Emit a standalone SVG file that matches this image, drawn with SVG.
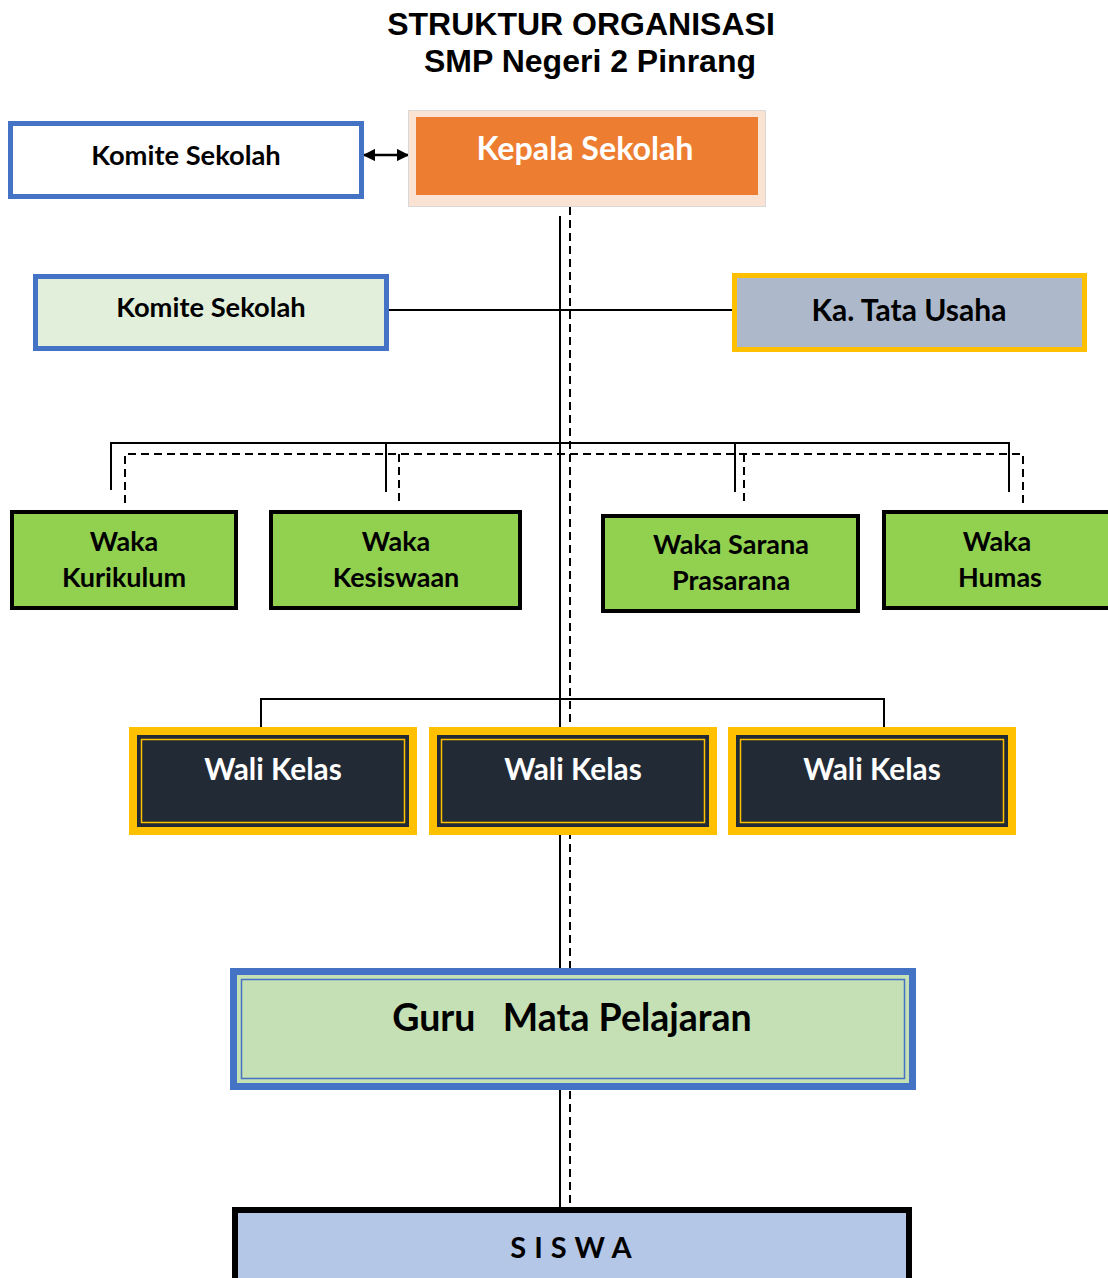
<svg xmlns="http://www.w3.org/2000/svg" width="1108" height="1278" viewBox="0 0 1108 1278">
<defs>
<style>
.t{font-family:Lato,"Liberation Sans",sans-serif;font-weight:bold;text-anchor:middle;fill:#000}
.w{fill:#fff}
.ttl{font-family:"Liberation Sans",Arial,sans-serif;font-weight:bold;font-size:32px;text-anchor:middle;fill:#000}
.sl{stroke:#000;stroke-width:2;fill:none}
.dl{stroke:#000;stroke-width:2;fill:none;stroke-dasharray:8,5}
.waka{fill:#92D050;stroke:#000;stroke-width:4}
</style>
<marker id="ah" viewBox="0 0 10 10" refX="9" refY="5" markerWidth="5" markerHeight="5" orient="auto-start-reverse" markerUnits="strokeWidth">
<path d="M0,0 L10,5 L0,10 z" fill="#000"/>
</marker>
</defs>
<rect width="1108" height="1278" fill="#fff"/>
<g id="title">
<text class="ttl" x="581" y="35">STRUKTUR ORGANISASI</text>
<text class="ttl" x="590" y="72">SMP Negeri 2 Pinrang</text>
</g>
<g id="connectors">
<line class="sl" x1="560" y1="216" x2="560" y2="968"/>
<line class="sl" x1="560" y1="1090" x2="560" y2="1208"/>
<line class="dl" x1="570" y1="207" x2="570" y2="1205"/>
<line class="sl" x1="389" y1="310" x2="733" y2="310"/>
<polyline class="sl" points="111,490 111,443 1009,443 1009,492"/>
<line class="sl" x1="386" y1="443" x2="386" y2="492"/>
<line class="sl" x1="735" y1="443" x2="735" y2="492"/>
<polyline class="dl" points="125,503 125,454 1023,454 1023,503"/>
<line class="dl" x1="399" y1="454" x2="399" y2="503"/>
<line class="dl" x1="744" y1="454" x2="744" y2="503"/>
<polyline class="sl" points="261,727 261,699 884,699 884,727"/>
<line stroke="#000" stroke-width="2.5" x1="364" y1="155" x2="408" y2="155" marker-start="url(#ah)" marker-end="url(#ah)"/>
</g>
<g id="komite1">
<rect x="10.5" y="123.5" width="351" height="73" fill="#fff" stroke="#4472C4" stroke-width="5"/>
<text class="t" x="186" y="165" font-size="27.3">Komite Sekolah</text>
</g>
<g id="kepala">
<rect x="408.5" y="110.5" width="357" height="96" fill="#FBE3D3" stroke="#D9D9D9" stroke-width="1"/>
<rect x="416" y="117" width="342" height="78" fill="#ED7D31"/>
<text class="t w" x="585" y="160" font-size="32.2">Kepala Sekolah</text>
</g>
<g id="komite2">
<rect x="35.5" y="276.5" width="351" height="72" fill="#E2EFDA" stroke="#4472C4" stroke-width="5"/>
<text class="t" x="211" y="317" font-size="27.3">Komite Sekolah</text>
</g>
<g id="tatausaha">
<rect x="734.5" y="275.5" width="350" height="74" fill="#ADB9CA" stroke="#FFC000" stroke-width="5"/>
<text class="t" x="909" y="321" font-size="30">Ka. Tata Usaha</text>
</g>
<g id="waka-kurikulum">
<rect class="waka" x="12" y="512" width="224" height="96"/>
<text class="t" x="124" y="551" font-size="27">Waka</text>
<text class="t" x="124" y="587" font-size="27">Kurikulum</text>
</g>
<g id="waka-kesiswaan">
<rect class="waka" x="271" y="512" width="249" height="96"/>
<text class="t" x="396" y="551" font-size="27">Waka</text>
<text class="t" x="396" y="587" font-size="27">Kesiswaan</text>
</g>
<g id="waka-sarana">
<rect class="waka" x="603" y="516" width="255" height="95"/>
<text class="t" x="731" y="554" font-size="27">Waka Sarana</text>
<text class="t" x="731" y="590" font-size="27">Prasarana</text>
</g>
<g id="waka-humas">
<rect class="waka" x="884" y="512" width="226" height="96"/>
<text class="t" x="997" y="551" font-size="27">Waka</text>
<text class="t" x="1000" y="587" font-size="27">Humas</text>
</g>
<g id="wali1">
<rect x="129" y="727" width="288" height="108" fill="#FFC000"/>
<rect x="137" y="735" width="272" height="92" fill="#222A35"/>
<rect x="141.5" y="739.5" width="263" height="83" fill="none" stroke="#FFC000" stroke-width="1.5"/>
<text class="t w" x="273" y="780" font-size="29.8">Wali Kelas</text>
</g>
<g id="wali2">
<rect x="429" y="727" width="288" height="108" fill="#FFC000"/>
<rect x="437" y="735" width="272" height="92" fill="#222A35"/>
<rect x="441.5" y="739.5" width="263" height="83" fill="none" stroke="#FFC000" stroke-width="1.5"/>
<text class="t w" x="573" y="780" font-size="29.8">Wali Kelas</text>
</g>
<g id="wali3">
<rect x="728" y="727" width="288" height="108" fill="#FFC000"/>
<rect x="736" y="735" width="272" height="92" fill="#222A35"/>
<rect x="740.5" y="739.5" width="263" height="83" fill="none" stroke="#FFC000" stroke-width="1.5"/>
<text class="t w" x="872" y="780" font-size="29.8">Wali Kelas</text>
</g>
<g id="guru">
<rect x="230" y="968" width="686" height="122" fill="#4472C4"/>
<rect x="237" y="975" width="672" height="108" fill="#C5E0B4"/>
<rect x="241.5" y="979.5" width="663" height="99" fill="none" stroke="#4472C4" stroke-width="1.5"/>
<text class="t" x="572" y="1031" font-size="37.5" style="white-space:pre">Guru   Mata Pelajaran</text>
</g>
<g id="siswa">
<rect x="235" y="1210" width="674" height="75" fill="#B4C7E7" stroke="#000" stroke-width="6"/>
<text class="t" x="575" y="1258" font-size="29" letter-spacing="8">SISWA</text>
</g>
</svg>
